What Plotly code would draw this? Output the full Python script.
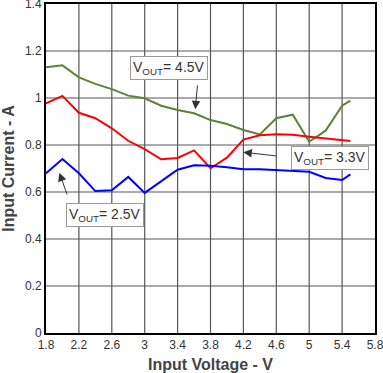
import plotly.graph_objects as go

vin = [1.8, 2.0, 2.2, 2.4, 2.6, 2.8, 3.0, 3.2, 3.4, 3.6, 3.8, 4.0, 4.2, 4.4, 4.6, 4.8, 5.0, 5.2, 5.4, 5.5]
i_45 = [1.131, 1.139, 1.088, 1.060, 1.038, 1.010, 0.999, 0.967, 0.949, 0.935, 0.906, 0.889, 0.864, 0.845, 0.914, 0.929, 0.814, 0.861, 0.967, 0.989]
i_33 = [0.977, 1.009, 0.937, 0.914, 0.871, 0.818, 0.782, 0.739, 0.745, 0.777, 0.701, 0.746, 0.823, 0.841, 0.846, 0.844, 0.835, 0.828, 0.823, 0.817]
i_25 = [0.680, 0.740, 0.680, 0.604, 0.607, 0.664, 0.596, 0.644, 0.695, 0.714, 0.712, 0.705, 0.697, 0.697, 0.694, 0.689, 0.686, 0.660, 0.651, 0.675]

x_ticks = [1.8, 2.2, 2.6, 3.0, 3.4, 3.8, 4.2, 4.6, 5.0, 5.4, 5.8]
x_labels = ["1.8", "2.2", "2.6", "3", "3.4", "3.8", "4.2", "4.6", "5", "5.4", "5.8"]
y_ticks = [0, 0.2, 0.4, 0.6, 0.8, 1.0, 1.2, 1.4]
y_labels = ["0", "0.2", "0.4", "0.6", "0.8", "1", "1.2", "1.4"]

fig = go.Figure()
fig.add_trace(go.Scatter(x=vin, y=i_45, mode="lines", line=dict(color="#5E8236", width=2), showlegend=False))
fig.add_trace(go.Scatter(x=vin, y=i_33, mode="lines", line=dict(color="#FF0000", width=2), showlegend=False))
fig.add_trace(go.Scatter(x=vin, y=i_25, mode="lines", line=dict(color="#0000FF", width=2), showlegend=False))

# grid lines drawn at the axis tick positions
grid_color = "#575757"
shapes = []
for xv in x_ticks[1:-1]:
    shapes.append(dict(type="line", xref="x", yref="paper", x0=xv, x1=xv, y0=0, y1=1,
                       line=dict(color=grid_color, width=1.2), layer="below"))
for yv in y_ticks[1:-1]:
    shapes.append(dict(type="line", xref="paper", yref="y", x0=0, x1=1, y0=yv, y1=yv,
                       line=dict(color=grid_color, width=1.2), layer="below"))

font = "Liberation Sans, Arial, sans-serif"
box_style = dict(showarrow=False, bgcolor="white", bordercolor="#9a9a9a", borderwidth=1, borderpad=2,
                 font=dict(family=font, size=14, color="#333333"), xref="x", yref="y")
arrow_style = dict(text="", showarrow=True, arrowhead=2, arrowsize=1.7, arrowwidth=1, arrowcolor="#333333",
                   xref="x", yref="y", axref="x", ayref="y")

annotations = [
    dict(x=3.299, y=1.128, text="V<sub>OUT</sub>= 4.5V", **box_style),
    dict(x=5.248, y=0.743, text="V<sub>OUT</sub>= 3.3V", **box_style),
    dict(x=2.519, y=0.501, text="V<sub>OUT</sub>= 2.5V", **box_style),
    dict(x=3.615, y=0.952, ax=3.643, ay=1.060, **arrow_style),
    dict(x=4.199, y=0.769, ax=4.616, ay=0.753, **arrow_style),
    dict(x=1.962, y=0.682, ax=2.063, ay=0.583, **arrow_style),
]

axis_common = dict(showgrid=False,
                   showline=True, linecolor="black", linewidth=2, mirror=True,
                   ticks="", tickfont=dict(size=12, color="#333333"), automargin=False,
                   ticklabeloverflow="allow", zeroline=False)

fig.update_layout(
    template="none",
    width=383, height=373,
    margin=dict(l=46, r=8, t=4, b=40),
    paper_bgcolor="white", plot_bgcolor="white",
    font=dict(family=font, color="#333333"),
    annotations=annotations,
    shapes=shapes,
    xaxis=dict(range=[1.8, 5.8], tickmode="array", tickvals=x_ticks, ticktext=x_labels,
               title=dict(text="<b>Input Voltage - V</b>", font=dict(size=16, color="#444444"), standoff=7),
               **axis_common),
    yaxis=dict(range=[0, 1.4], tickmode="array", tickvals=y_ticks, ticktext=y_labels,
               title=dict(text="<b>Input Current - A</b>", font=dict(size=16, color="#444444"), standoff=7),
               **axis_common),
)

fig.write_html("out.html", config={"displayModeBar": False},
               post_script="document.body.style.margin='0';")
